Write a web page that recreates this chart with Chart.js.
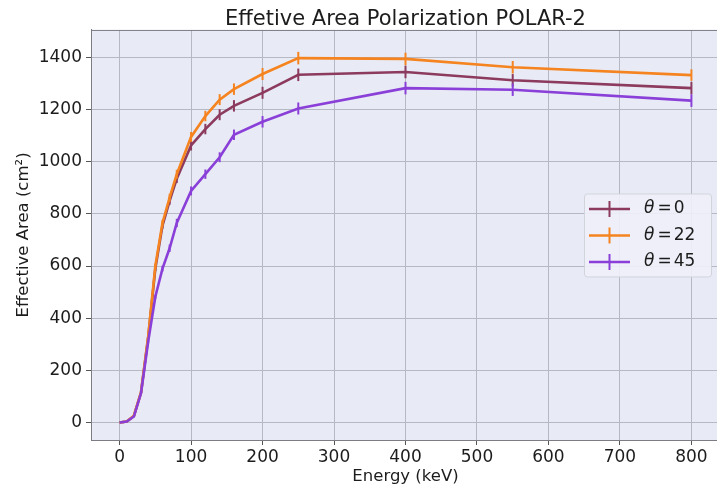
<!DOCTYPE html>
<html>
<head>
<meta charset="utf-8">
<title>Effective Area Polarization POLAR-2</title>
<script src="https://cdn.jsdelivr.net/npm/chart.js@4.4.1/dist/chart.umd.min.js"></script>
<style>
  html, body { margin: 0; padding: 0; background: #fff; overflow: hidden; }
  #wrap { width: 720px; height: 487px; }
</style>
</head>
<body>
<div id="wrap"><canvas id="area"></canvas></div>
<script>
// Energy grid (keV) shared by all three incidence angles
const energy = [0, 10, 20, 30, 40, 50, 60, 70, 80, 100, 120, 140, 160, 200, 250, 400, 550, 800];

// Effective area (cm^2) and 1-sigma errors per incidence angle
const areaTheta0  = [0, 4, 25, 115, 326, 590, 755, 850, 935, 1062, 1125, 1180, 1214, 1264, 1333, 1344, 1312, 1282];
const errTheta0   = [0, 1, 2, 4, 6, 9, 12, 15, 17, 19, 20, 21, 22, 23, 24, 24, 24, 24];

const areaTheta22 = [0, 4, 26, 117, 330, 600, 765, 862, 952, 1095, 1175, 1238, 1278, 1336, 1397, 1394, 1362, 1332];
const errTheta22  = [0, 1, 2, 4, 6, 9, 12, 15, 17, 19, 20, 21, 22, 23, 24, 24, 24, 22];

const areaTheta45 = [0, 4, 23, 113, 310, 482, 590, 668, 765, 888, 952, 1017, 1103, 1153, 1204, 1282, 1276, 1234];
const errTheta45  = [0, 1, 2, 4, 6, 8, 11, 14, 16, 17, 18, 19, 20, 22, 23, 24, 24, 24];

const seriesLabels = ['θ = 0', 'θ = 22', 'θ = 45'];
const seriesColors = ['#8c3a5e', '#f5831f', '#8a3fd8'];

// Tick positions and axis limits
const xTickValues = [0, 100, 200, 300, 400, 500, 600, 700, 800];
const yTickValues = [0, 200, 400, 600, 800, 1000, 1200, 1400];
const xLimits = [-40, 840];
const yLimits = [-67, 1505];

const FONT = '"DejaVu Sans", sans-serif';
const TEXT = '#1c1c1c';
const PLOT_BG = '#e8ebf5';
const GRID = '#b6b9c4';
const FRAME = '#7c7c84';

const series = [
  { values: areaTheta0,  errors: errTheta0  },
  { values: areaTheta22, errors: errTheta22 },
  { values: areaTheta45, errors: errTheta45 },
];

// Later series sit on top, as in the original plotting order
const datasets = series.map((s, i) => ({
  label: seriesLabels[i],
  data: energy.map((e, k) => ({ x: e, y: s.values[k] })),
  errors: s.errors,
  borderColor: seriesColors[i],
  backgroundColor: seriesColors[i],
  borderWidth: 2.6,
  pointRadius: 0,
  tension: 0,
  order: series.length - i,
}));

/** Fills the plot area and frames its top/right edges. */
const plotFrame = {
  id: 'plotFrame',
  beforeDraw(chart) {
    const { ctx, chartArea: a } = chart;
    ctx.save();
    ctx.fillStyle = PLOT_BG;
    ctx.fillRect(a.left, a.top, a.right - a.left, a.bottom - a.top);
    ctx.restore();
  },
  afterDraw(chart) {
    const { ctx, chartArea: a } = chart;
    ctx.save();
    ctx.strokeStyle = FRAME;
    ctx.lineWidth = 1;
    ctx.beginPath();
    ctx.moveTo(a.left, a.top + 0.5);
    ctx.lineTo(a.right, a.top + 0.5);
    ctx.lineTo(a.right - 0.5, a.bottom);
    ctx.stroke();
    ctx.restore();
  },
};

/** Vertical error bars, drawn right after each line. */
const errorBars = {
  id: 'errorBars',
  afterDatasetDraw(chart, args) {
    const ds = chart.data.datasets[args.index];
    const xs = chart.scales.x, ys = chart.scales.y;
    const { ctx } = chart;
    ctx.save();
    ctx.strokeStyle = ds.borderColor;
    ctx.lineWidth = 2;
    ds.data.forEach((p, k) => {
      const e = ds.errors[k];
      if (!e) return;
      const x = xs.getPixelForValue(p.x);
      ctx.beginPath();
      ctx.moveTo(x, ys.getPixelForValue(p.y - e));
      ctx.lineTo(x, ys.getPixelForValue(p.y + e));
      ctx.stroke();
    });
    ctx.restore();
  },
};

/** Legend box sitting at the centre right of the plot area. */
const boxLegend = {
  id: 'boxLegend',
  afterDraw(chart) {
    const { ctx, chartArea: a } = chart;
    const w = 127, h = 83, rowH = 26.5;
    const right = a.right - 9;
    const left = right - w;
    const top = (a.top + a.bottom) / 2 - h / 2;

    ctx.save();
    ctx.beginPath();
    ctx.roundRect(left + 0.5, top + 0.5, w, h, 3);
    ctx.fillStyle = 'rgba(238, 240, 248, 0.9)';
    ctx.fill();
    ctx.strokeStyle = '#d2d4dc';
    ctx.lineWidth = 1;
    ctx.stroke();

    chart.data.datasets.forEach((ds, i) => {
      const cy = top + 15.5 + i * rowH;
      ctx.strokeStyle = ds.borderColor;
      ctx.lineWidth = 2.6;
      ctx.beginPath();
      ctx.moveTo(left + 5, cy);
      ctx.lineTo(left + 46, cy);
      ctx.stroke();
      ctx.lineWidth = 2;
      ctx.beginPath();
      ctx.moveTo(left + 25.5, cy - 8);
      ctx.lineTo(left + 25.5, cy + 8);
      ctx.stroke();

      // "θ" in italic, the rest upright
      const [sym, eq, num] = ds.label.split(' ');
      let tx = left + 60;
      ctx.fillStyle = TEXT;
      ctx.textBaseline = 'middle';
      ctx.font = 'italic 17px ' + FONT;
      ctx.fillText(sym, tx, cy);
      tx += ctx.measureText(sym).width + 3;
      ctx.font = '17px ' + FONT;
      ctx.fillText(eq, tx, cy);
      tx += ctx.measureText(eq).width + 2;
      ctx.fillText(num, tx, cy);
    });
    ctx.restore();
  },
};

const fixedTicks = (values) => (scale) => {
  scale.ticks = values.map((v) => ({ value: v }));
};
const plainLabel = (v) => String(v);

new Chart(document.getElementById('area'), {
  type: 'line',
  data: { datasets },
  plugins: [plotFrame, errorBars, boxLegend],
  options: {
    responsive: true,
    maintainAspectRatio: false,
    animation: false,
    devicePixelRatio: 1,
    layout: { padding: 0 },
    plugins: {
      legend: { display: false },
      tooltip: { enabled: false },
      title: {
        display: true,
        fullSize: false,
        text: 'Effetive Area Polarization POLAR-2',
        color: TEXT,
        font: { family: FONT, size: 21, weight: 'normal', lineHeight: 0.95 },
        padding: { top: 10, bottom: 0 },
      },
    },
    scales: {
      x: {
        type: 'linear',
        min: xLimits[0],
        max: xLimits[1],
        afterBuildTicks: fixedTicks(xTickValues),
        afterFit: (scale) => { scale.height = 47; },
        ticks: {
          color: TEXT,
          font: { family: FONT, size: 17 },
          padding: 2,
          maxRotation: 0,
          callback: plainLabel,
        },
        grid: { color: GRID, tickColor: '#555', tickLength: 5, lineWidth: 1 },
        border: { display: true, color: FRAME, width: 1 },
        title: {
          display: true,
          text: 'Energy (keV)',
          color: TEXT,
          font: { family: FONT, size: 16.5 },
          padding: 0,
        },
      },
      y: {
        min: yLimits[0],
        max: yLimits[1],
        afterBuildTicks: fixedTicks(yTickValues),
        afterFit: (scale) => { scale.width = 91; },
        ticks: {
          color: TEXT,
          font: { family: FONT, size: 17 },
          padding: 4,
          callback: plainLabel,
        },
        grid: { color: GRID, tickColor: '#555', tickLength: 5, lineWidth: 1 },
        border: { display: true, color: FRAME, width: 1 },
        title: {
          display: true,
          text: 'Effective Area (cm²)',
          color: TEXT,
          font: { family: FONT, size: 16.5 },
          padding: { top: 14, bottom: 0 },
        },
      },
    },
  },
});
</script>
</body>
</html>
